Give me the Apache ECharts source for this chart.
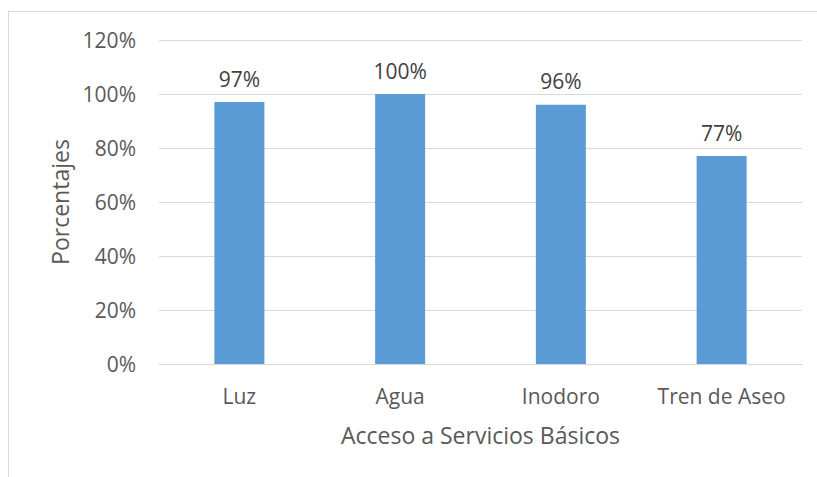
<!DOCTYPE html>
<html>
<head>
<meta charset="utf-8">
<script src="https://cdn.jsdelivr.net/npm/echarts@6/dist/echarts.min.js"></script>
<style>
  html, body { margin: 0; padding: 0; background: #fff; }
  #frame { position: absolute; left: 8px; top: 11px; width: 820px; height: 480px; border: 1px solid #d9d9d9; box-sizing: border-box; }
  #chart { position: absolute; left: 0; top: 0; width: 817px; height: 477px; }
</style>
</head>
<body>
<div id="frame"></div>
<div id="chart"></div>
<script>
var categories = ['Luz', 'Agua', 'Inodoro', 'Tren de Aseo'];
var values = [97, 100, 96, 77];
var xTitle = 'Acceso a Servicios Básicos';
var yTitle = 'Porcentajes';

var font = '"Open Sans", sans-serif';
var chart = echarts.init(document.getElementById('chart'), null, { renderer: 'svg' });
chart.setOption({
  animation: false,
  grid: { left: 159, right: 15, top: 40, bottom: 113 },
  xAxis: {
    type: 'category',
    data: categories,
    name: xTitle,
    nameLocation: 'middle',
    nameGap: 59,
    nameTextStyle: { color: '#595959', fontSize: 23, fontFamily: font },
    axisTick: { show: false },
    axisLine: { lineStyle: { color: '#d9d9d9', width: 1 } },
    axisLabel: { color: '#595959', fontSize: 21, fontFamily: font, margin: 21, interval: 0, hideOverlap: false }
  },
  yAxis: {
    type: 'value',
    min: 0,
    max: 120,
    interval: 20,
    name: yTitle,
    nameLocation: 'middle',
    nameGap: 85,
    nameTextStyle: { color: '#595959', fontSize: 23, fontFamily: font },
    axisLine: { show: false },
    axisTick: { show: false },
    axisLabel: { color: '#595959', fontSize: 21, fontFamily: font, margin: 23, formatter: '{value}%' },
    splitLine: { lineStyle: { color: '#d9d9d9', width: 1 } }
  },
  series: [{
    type: 'bar',
    data: values,
    barWidth: 50,
    itemStyle: { color: '#5b9bd5' },
    label: {
      show: true,
      position: 'top',
      distance: 13,
      color: '#404040',
      fontSize: 21,
      fontFamily: font,
      formatter: '{c}%'
    }
  }]
});
</script>
</body>
</html>
